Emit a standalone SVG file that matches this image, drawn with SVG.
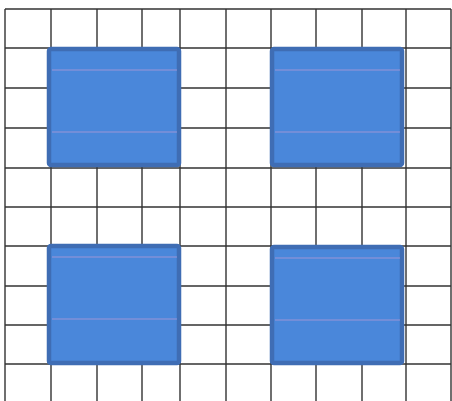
<svg xmlns="http://www.w3.org/2000/svg" width="452" height="401" viewBox="0 0 452 401">
<style>
.g{stroke:#333333;stroke-width:1.4;fill:none}
.sq{fill:#4a87da;stroke:#3f6db4;stroke-width:4.5}
.ln{stroke:#b29ad6;stroke-width:1.2;opacity:0.8}
</style>
<rect width="452" height="401" fill="#ffffff"/>
<g id="grid">
<path class="g" d="M5 9V401M51 9V401M97 9V401M142 9V401M180 9V401M226 9V401M271 9V401M316 9V401M362 9V401M406 9V401M451 9V401"/>
<path class="g" d="M5 9H451M5 48H451M5 88H451M5 128H451M5 168H451M5 207H451M5 246H451M5 286H451M5 325H451M5 364H451"/>
</g>
<g id="square-top-left">
<rect class="sq" x="49" y="49" width="130" height="116" rx="2"/>
<path class="ln" d="M52 70H177M52 132H177"/>
</g>
<g id="square-top-right">
<rect class="sq" x="272" y="49" width="130" height="116" rx="2"/>
<path class="ln" d="M275 70H400M275 132H400"/>
</g>
<g id="square-bottom-left">
<rect class="sq" x="49" y="246" width="130" height="117" rx="2"/>
<path class="ln" d="M52 257H177M52 319H177"/>
</g>
<g id="square-bottom-right">
<rect class="sq" x="272" y="247" width="130" height="116" rx="2"/>
<path class="ln" d="M275 258H400M275 320H400"/>
</g>
<g id="connectors"/>
</svg>
